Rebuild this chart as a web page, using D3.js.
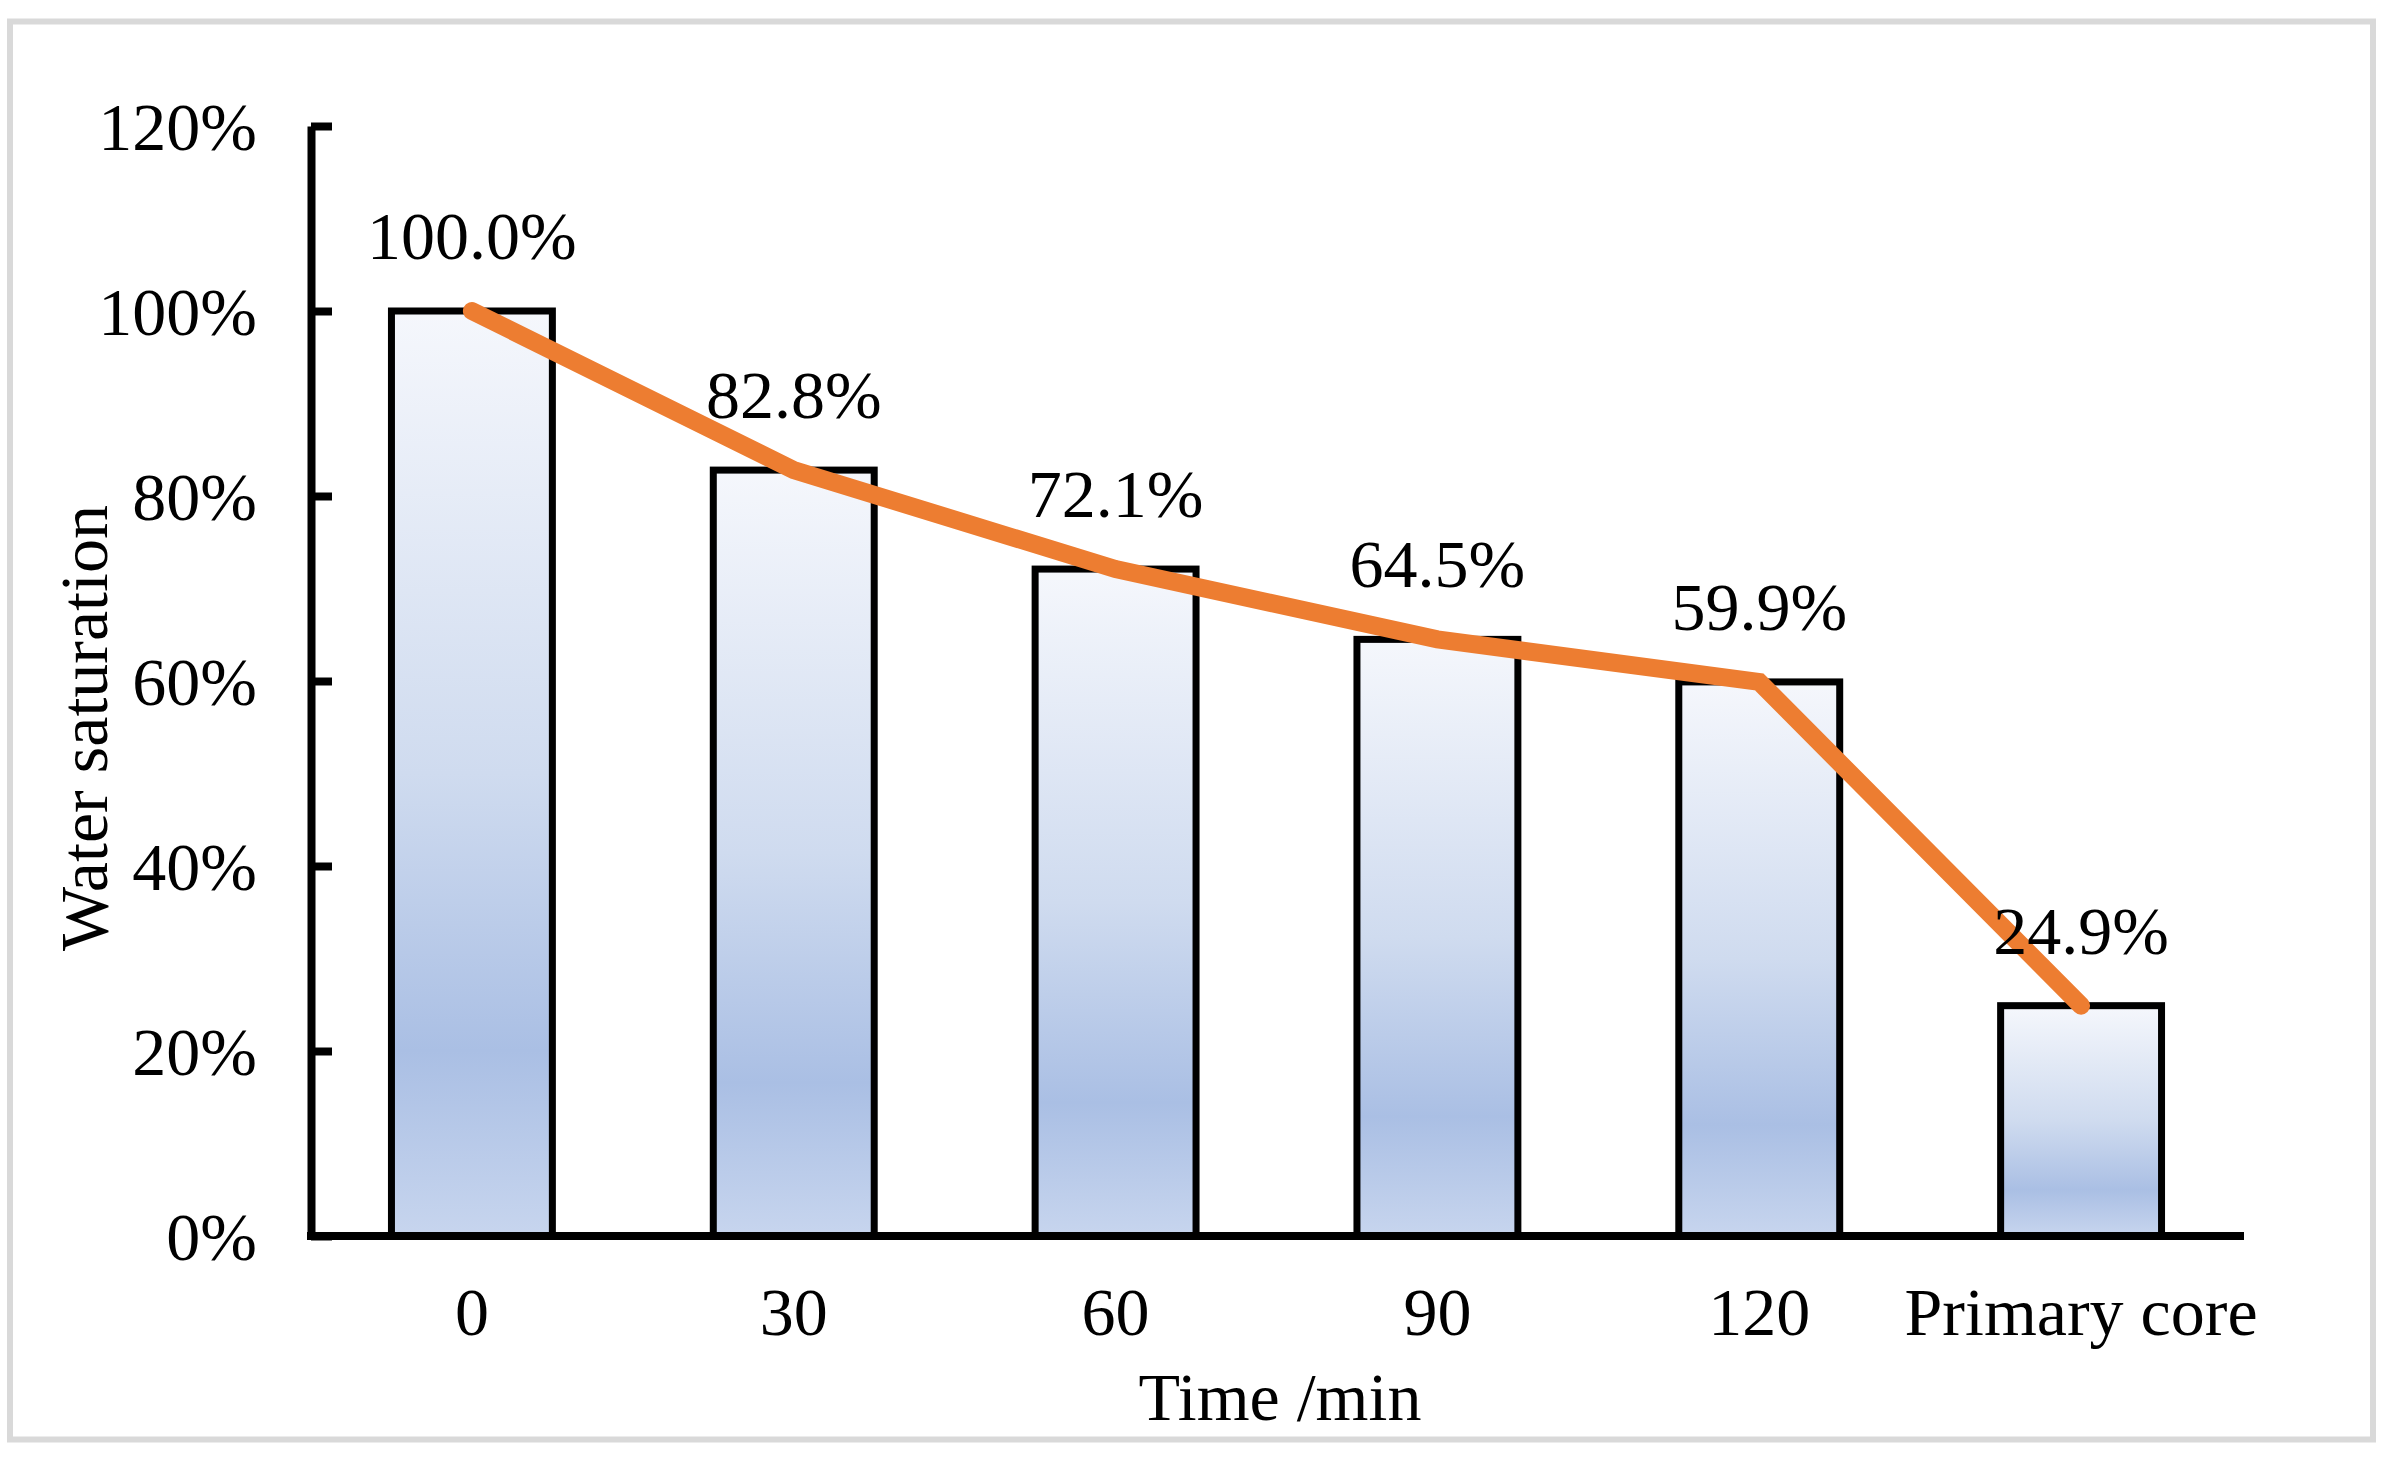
<!DOCTYPE html>
<html>
<head>
<meta charset="utf-8">
<script src="https://cdn.jsdelivr.net/npm/d3@7"></script>
<style>
  html, body { margin: 0; padding: 0; background: #fff; }
  text { font-family: "Liberation Serif", "Times New Roman", serif; fill: #000; }
</style>
</head>
<body>
<svg id="chart"></svg>
<script>
const categories = ['0', '30', '60', '90', '120', 'Primary core'];
const saturation = [100.0, 82.8, 72.1, 64.5, 59.9, 24.9];
const yTicks = [0, 20, 40, 60, 80, 100, 120];

const W = 2394, H = 1460;
const x0 = 311, x1 = 2242;
const yBottom = 1236, yTop = 126;

const svg = d3.select('#chart')
  .attr('width', W)
  .attr('height', H);

// outer frame
svg.append('rect')
  .attr('x', 10).attr('y', 21.5)
  .attr('width', 2363).attr('height', 1418)
  .attr('fill', '#fff')
  .attr('stroke', '#d9d9d9')
  .attr('stroke-width', 6);

const grad = svg.append('defs').append('linearGradient')
  .attr('id', 'barFill')
  .attr('x1', 0).attr('y1', 0).attr('x2', 0).attr('y2', 1);
[[0, '#f5f7fc'], [0.5, '#cfdbef'], [0.8, '#aabfe4'], [1, '#c7d5ee']].forEach(s => {
  grad.append('stop').attr('offset', s[0]).attr('stop-color', s[1]);
});

const x = d3.scaleBand()
  .domain(categories)
  .range([x0, x1])
  .paddingInner(0.5)
  .paddingOuter(0.25);

const y = d3.scaleLinear()
  .domain([0, 120])
  .range([yBottom, yTop]);

// bars
svg.selectAll('.bar')
  .data(saturation)
  .enter()
  .append('rect')
  .attr('class', 'bar')
  .attr('x', (d, i) => x(categories[i]))
  .attr('y', d => y(d))
  .attr('width', x.bandwidth())
  .attr('height', d => yBottom - y(d))
  .attr('fill', 'url(#barFill)')
  .attr('stroke', '#000')
  .attr('stroke-width', 7);

// y axis
const yAxis = svg.append('g')
  .attr('transform', `translate(${x0},0)`)
  .call(d3.axisLeft(y)
    .tickValues(yTicks)
    .tickSizeInner(-21)
    .tickSizeOuter(0)
    .tickPadding(54)
    .tickFormat(d => d + '%'));
yAxis.select('.domain').attr('stroke', '#000').attr('stroke-width', 8);
yAxis.selectAll('.tick line').attr('stroke', '#000').attr('stroke-width', 8);
yAxis.selectAll('.tick text')
  .attr('font-size', 68)
  .attr('dy', '0.34em')
  .style('font-family', '"Liberation Serif", "Times New Roman", serif');

// x axis
const xAxis = svg.append('g')
  .attr('transform', `translate(0,${yBottom})`)
  .call(d3.axisBottom(x).tickSize(0).tickPadding(0));
xAxis.select('.domain').attr('stroke', '#000').attr('stroke-width', 8)
  .attr('d', `M${x0 - 4},0H${x1 + 2}`);
xAxis.selectAll('.tick text')
  .attr('font-size', 68)
  .attr('y', 99)
  .attr('dy', 0)
  .style('font-family', '"Liberation Serif", "Times New Roman", serif');

// line
const line = d3.line()
  .x((d, i) => x(categories[i]) + x.bandwidth() / 2)
  .y(d => y(d));

svg.append('path')
  .datum(saturation)
  .attr('d', line)
  .attr('fill', 'none')
  .attr('stroke', '#ed7d31')
  .attr('stroke-width', 18)
  .attr('stroke-linecap', 'round')
  .attr('stroke-linejoin', 'miter');

// data labels
svg.selectAll('.label')
  .data(saturation)
  .enter()
  .append('text')
  .attr('class', 'label')
  .attr('x', (d, i) => x(categories[i]) + x.bandwidth() / 2)
  .attr('y', d => y(d) - 52)
  .attr('text-anchor', 'middle')
  .attr('font-size', 68)
  .text(d => d.toFixed(1) + '%');

// axis titles
svg.append('text')
  .attr('transform', 'translate(107,728) rotate(-90)')
  .attr('text-anchor', 'middle')
  .attr('font-size', 68)
  .text('Water saturation');

svg.append('text')
  .attr('x', 1280)
  .attr('y', 1420)
  .attr('text-anchor', 'middle')
  .attr('font-size', 68)
  .text('Time /min');
</script>
</body>
</html>
